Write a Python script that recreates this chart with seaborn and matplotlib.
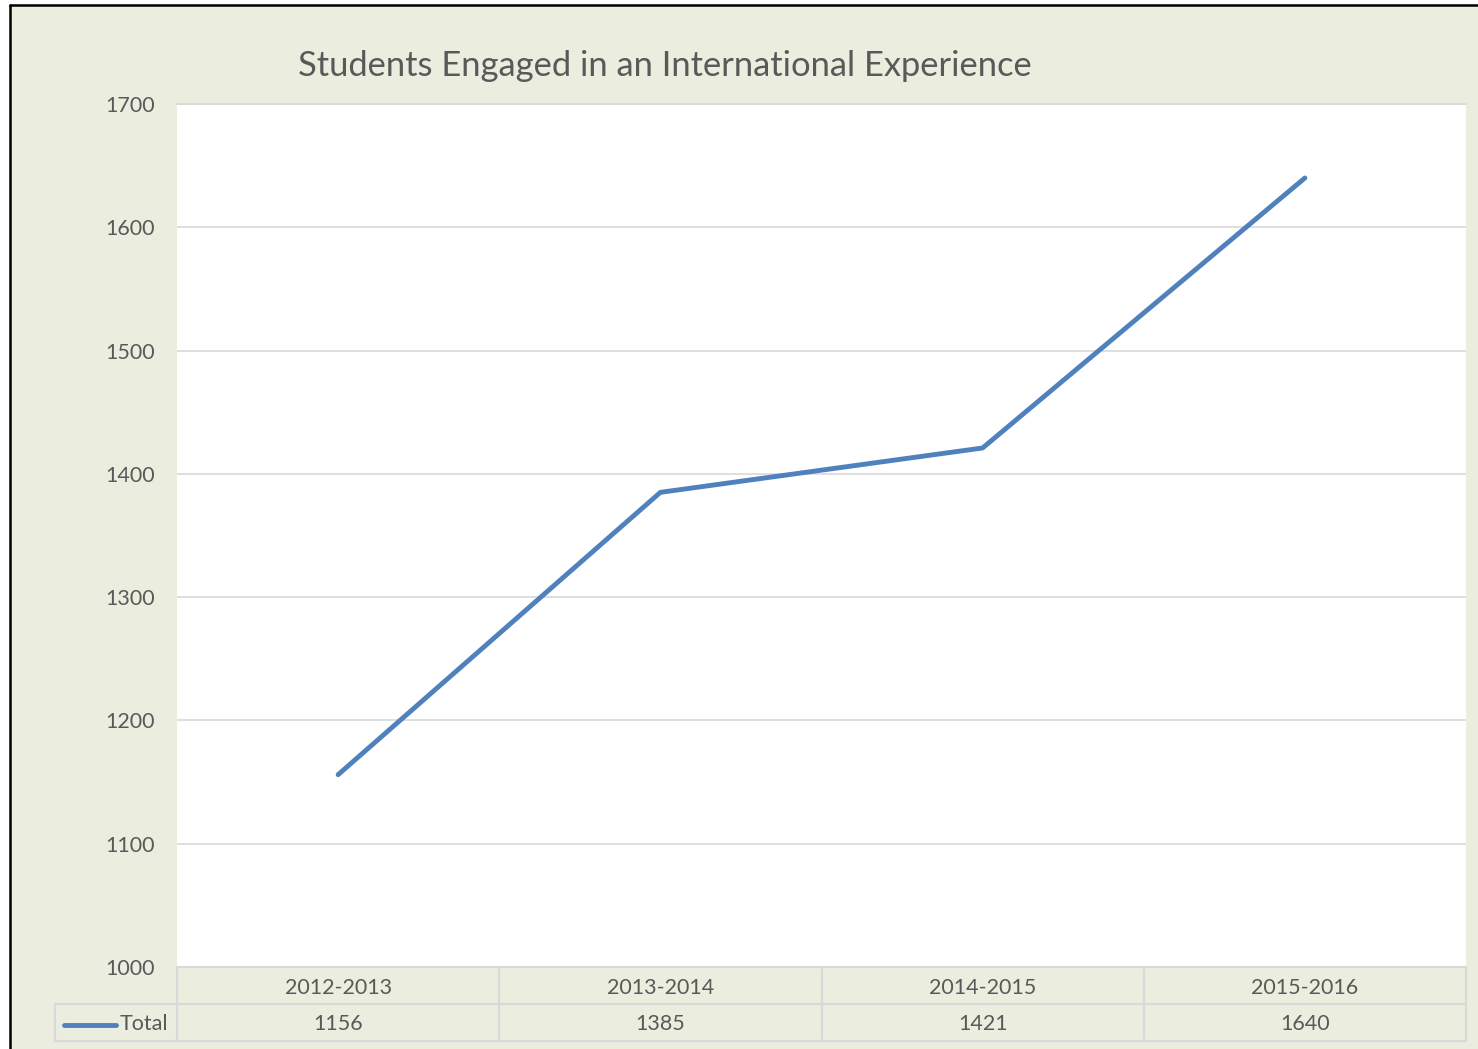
import matplotlib
matplotlib.use("Agg")
import matplotlib.pyplot as plt
import seaborn as sns
import pandas as pd
from matplotlib.lines import Line2D

# data
years = ["2012-2013", "2013-2014", "2014-2015", "2015-2016"]
totals = [1156, 1385, 1421, 1640]
series_name = "Total"
title = "Students Engaged in an International Experience"

bg = "#EBEEDE"
line_color = "#4F81BD"
text_color = "#595959"
grid_color = "#D9D9D9"

sns.set_theme(style="white")
plt.rcParams["font.family"] = ["Lato", "DejaVu Sans"]

df = pd.DataFrame({"Year": years, series_name: totals})
df["pos"] = range(len(df))

fig = plt.figure(figsize=(14.78, 10.49), dpi=100, facecolor=bg)
ax = fig.add_axes([177 / 1478, 1 - 967 / 1049, (1466 - 177) / 1478, (967 - 104) / 1049])
ax.set_facecolor("white")

sns.lineplot(data=df, x="pos", y=series_name, ax=ax, color=line_color,
             linewidth=3.5, solid_capstyle="round")

ax.set_xlim(-0.5, len(years) - 0.5)
ax.set_ylim(1000, 1700)
ax.set_yticks(range(1000, 1701, 100))
ax.set_xticks([])
ax.set_xlabel("")
ax.set_ylabel("")
ax.tick_params(axis="y", labelsize=15.5, labelcolor=text_color, pad=16, length=0)
ax.yaxis.grid(True, color=grid_color, linewidth=1.2)
for s in ax.spines.values():
    s.set_visible(False)
ax.spines["top"].set_visible(True)
ax.spines["top"].set_color(grid_color)

fig.text(298 / 1478, 1 - 66 / 1049, title, fontsize=24.8, color=text_color,
         ha="left", va="center")

# data table below the plot
W, H = 1478, 1049
def fx(px):
    return px / W
def fy(py):
    return 1 - py / H

left_tab, x0, x1 = 55, 177, 1466
row_y = [967, 1004, 1041]
col_w = (x1 - x0) / len(years)
tab_kw = dict(color=grid_color, linewidth=1.6, transform=fig.transFigure)
fig.lines.append(Line2D([fx(x0), fx(x1)], [fy(row_y[0])] * 2, **tab_kw))
fig.lines.append(Line2D([fx(left_tab), fx(x1)], [fy(row_y[1])] * 2, **tab_kw))
fig.lines.append(Line2D([fx(left_tab), fx(x1)], [fy(row_y[2])] * 2, **tab_kw))
fig.lines.append(Line2D([fx(left_tab)] * 2, [fy(row_y[1]), fy(row_y[2])], **tab_kw))
for i in range(len(years) + 1):
    xx = x0 + i * col_w
    fig.lines.append(Line2D([fx(xx)] * 2, [fy(row_y[0]), fy(row_y[2])], **tab_kw))

y_hdr = fy((row_y[0] + row_y[1]) / 2 + 2)
y_val = fy((row_y[1] + row_y[2]) / 2 + 2)
for i, (yr, v) in enumerate(zip(years, totals)):
    cx = fx(x0 + (i + 0.5) * col_w)
    fig.text(cx, y_hdr, yr, fontsize=15.5, color=text_color, ha="center", va="center")
    fig.text(cx, y_val, str(v), fontsize=15.5, color=text_color, ha="center", va="center")

fig.lines.append(Line2D([fx(64), fx(116)], [y_val, y_val], color=line_color, linewidth=3.5,
                        solid_capstyle="round", transform=fig.transFigure))
fig.text(fx(120), y_val, series_name, fontsize=15.5, color=text_color, ha="left", va="center")

# outer black border (left and top)
fig.lines.append(Line2D([fx(10), fx(10)], [fy(5), 0], color="black", linewidth=1.8,
                        transform=fig.transFigure))
fig.lines.append(Line2D([fx(10), 1], [fy(5), fy(5)], color="black", linewidth=1.8,
                        transform=fig.transFigure))
# white gap outside the border
fig.patches.append(plt.Rectangle((0, 0), fx(9), 1, color="white", transform=fig.transFigure, zorder=-1))
fig.patches.append(plt.Rectangle((0, fy(4)), 1, 1 - fy(4), color="white", transform=fig.transFigure, zorder=-1))

fig.savefig("out.png", dpi=100, facecolor=bg)
